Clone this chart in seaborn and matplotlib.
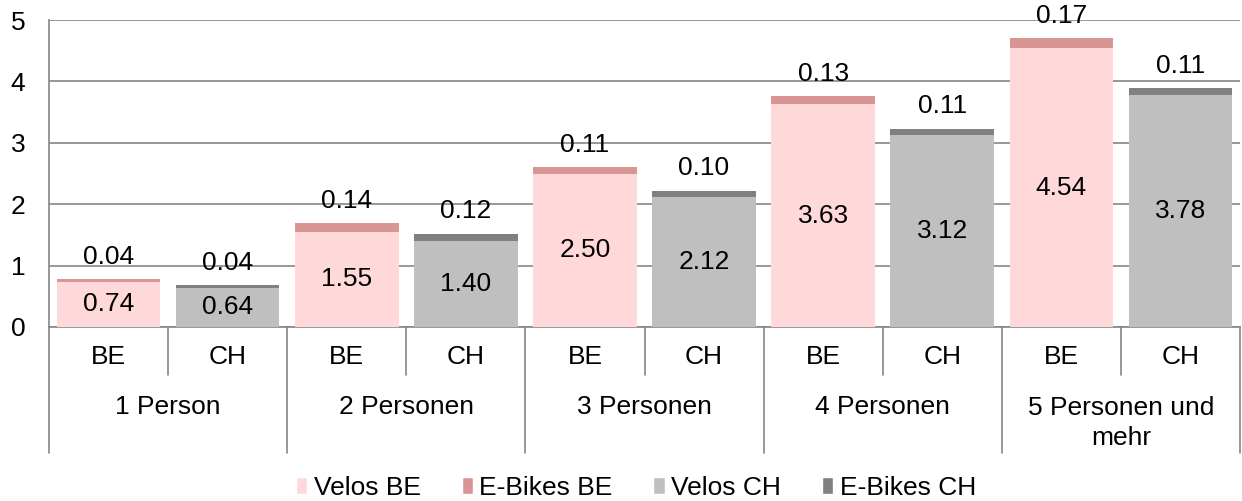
import matplotlib
matplotlib.use("Agg")
import matplotlib.pyplot as plt
import seaborn as sns
import pandas as pd
from matplotlib.patches import Patch
from matplotlib.lines import Line2D

groups = ["1 Person", "2 Personen", "3 Personen", "4 Personen", "5 Personen und\nmehr"]
regions = ["BE", "CH"]
velos_be = [0.74, 1.55, 2.50, 3.63, 4.54]
ebikes_be = [0.04, 0.14, 0.11, 0.13, 0.17]
velos_ch = [0.64, 1.40, 2.12, 3.12, 3.78]
ebikes_ch = [0.04, 0.12, 0.10, 0.11, 0.11]
yticks = [0, 1, 2, 3, 4, 5]
legend_labels = ["Velos BE", "E-Bikes BE", "Velos CH", "E-Bikes CH"]

col_velos = {"BE": "#FFD9D9", "CH": "#BFBFBF"}
col_ebikes = {"BE": "#D99594", "CH": "#808080"}

rows = []
for i, g in enumerate(groups):
    rows.append(dict(slot=f"{i}-BE", group=g, region="BE", velos=velos_be[i], ebikes=ebikes_be[i]))
    rows.append(dict(slot=f"{i}-CH", group=g, region="CH", velos=velos_ch[i], ebikes=ebikes_ch[i]))
df = pd.DataFrame(rows)
df["total"] = df["velos"] + df["ebikes"]
order = list(df["slot"])

sns.set_style("white")
plt.rcParams["font.family"] = ["Liberation Sans", "DejaVu Sans"]
plt.rcParams["text.color"] = "black"
plt.rcParams["xtick.color"] = "black"
plt.rcParams["ytick.color"] = "black"
FS = 19

fig = plt.figure(figsize=(12.42, 5.01), dpi=100)
ax = fig.add_axes([49 / 1242, 1 - 327 / 501, (1240 - 49) / 1242, (327 - 20) / 501])

sns.barplot(data=df, x="slot", y="total", hue="region", order=order, palette=col_ebikes,
            dodge=False, width=0.87, saturation=1, errorbar=None, legend=False, ax=ax,
            zorder=3, linewidth=0)
sns.barplot(data=df, x="slot", y="velos", hue="region", order=order, palette=col_velos,
            dodge=False, width=0.87, saturation=1, errorbar=None, legend=False, ax=ax,
            zorder=3, linewidth=0)

ax.set_ylim(0, 5)
ax.set_xlim(-0.5, len(order) - 0.5)
ax.set_yticks(yticks)
ax.set_yticklabels([str(t) for t in yticks], fontsize=FS)
ax.tick_params(axis="y", length=0, pad=17, colors="black")
ax.tick_params(axis="x", length=0)
ax.set_xticks(range(len(order)))
ax.set_xticklabels([])
ax.set_xlabel("")
ax.set_ylabel("")
ax.grid(axis="y", color="#868686", linewidth=1.2, zorder=0)
for s in ["top", "right"]:
    ax.spines[s].set_visible(False)
for s in ["left", "bottom"]:
    ax.spines[s].set_color("#868686")
    ax.spines[s].set_linewidth(1.2)

# bar labels
for k, r in df.iterrows():
    ax.text(k, r["velos"] / 2, f"{r['velos']:.2f}", ha="center", va="center", fontsize=FS,
            color="black", zorder=4)
    ax.annotate(f"{r['ebikes']:.2f}", (k, r["total"]), xytext=(0, 16), textcoords="offset points",
                ha="center", va="center", fontsize=FS, color="black", zorder=4)

# category axis (two-level)
trans = ax.get_xaxis_transform()
ppy = 1 / (327 - 20)  # axes fraction per pixel
for k in range(len(order) + 1):
    x = k - 0.5
    depth = (453 - 327) if k % 2 == 0 else (375 - 327)
    ax.add_line(Line2D([x, x], [0, -depth * ppy], transform=trans, color="#868686",
                       linewidth=1.2, clip_on=False))
for k, r in df.iterrows():
    ax.text(k, -(357 - 327) * ppy, r["region"], transform=trans, ha="center", va="center",
            fontsize=FS, color="black")
for i, g in enumerate(groups):
    yc = 407 if "\n" not in g else 423
    ax.text(2 * i + 0.5, -(yc - 327) * ppy, g, transform=trans, ha="center", va="center",
            fontsize=FS, linespacing=1.3, color="black")

handles = [Patch(facecolor=col_velos["BE"]), Patch(facecolor=col_ebikes["BE"]),
           Patch(facecolor=col_velos["CH"]), Patch(facecolor=col_ebikes["CH"])]
fig.legend(handles, legend_labels, loc="center", bbox_to_anchor=(0.512, 1 - 488 / 501), ncol=4,
           frameon=False, fontsize=FS, handlelength=0.42, handleheight=0.6, handletextpad=0.25,
           columnspacing=1.55, borderpad=0, labelcolor="black")

fig.savefig("out.png", dpi=100)
